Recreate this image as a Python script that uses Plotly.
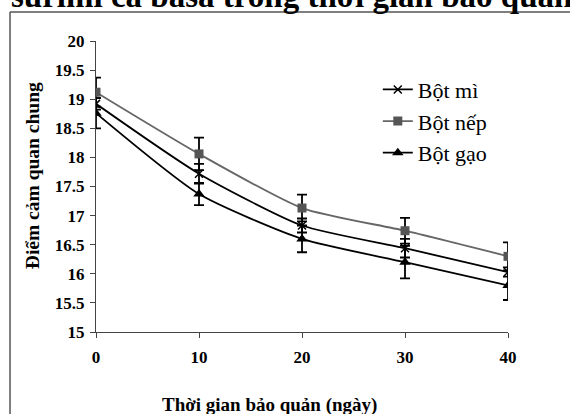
import plotly.graph_objects as go

days = [0, 10, 20, 30, 40]
bot_mi = [18.92, 17.72, 16.83, 16.44, 16.03]
bot_nep = [19.12, 18.06, 17.13, 16.74, 16.3]
bot_gao = [18.76, 17.37, 16.6, 16.2, 15.8]
err_mi = [0.1, 0.17, 0.12, 0.16, 0.08]
err_nep = [0.25, 0.28, 0.23, 0.22, 0.24]
err_gao = [0.26, 0.19, 0.23, 0.28, 0.25]
series_names = ["Bột mì", "Bột nếp", "Bột gạo"]
y_ticks = [15, 15.5, 16, 16.5, 17, 17.5, 18, 18.5, 19, 19.5, 20]
y_tick_text = ["15", "15.5", "16", "16.5", "17", "17.5", "18", "18.5", "19", "19.5", "20"]

SERIF = "Liberation Serif"

fig = go.Figure()

def add(name, y, err, color, symbol, msize, lcolor):
    fig.add_trace(go.Scatter(
        x=days, y=y, name=name, mode="lines+markers",
        line=dict(color=lcolor, width=1.8, shape="spline", smoothing=0.6),
        marker=dict(symbol=symbol, size=msize, color=color,
                    line=dict(color=color, width=1.5 if symbol == "x-thin" else 0)),
        error_y=dict(type="data", array=err, visible=True, color="black",
                     thickness=1.8, width=5),
        legendgroup=name,
    ))

add(series_names[0], bot_mi, err_mi, "black", "x-thin", 8, "black")
add(series_names[1], bot_nep, err_nep, "#555555", "square", 9, "#666666")
add(series_names[2], bot_gao, err_gao, "black", "triangle-up", 10, "black")

fig.update_layout(
    width=570, height=414,
    margin=dict(l=96, r=62, t=41, b=82),
    paper_bgcolor="white", plot_bgcolor="white",
    font=dict(family=SERIF, color="black"),
    showlegend=True,
    legend=dict(x=0.684, y=0.905, xanchor="left", yanchor="top",
                font=dict(family=SERIF, size=22, color="black"),
                bgcolor="rgba(0,0,0,0)", tracegroupgap=0),
    xaxis=dict(range=[0, 40], tickvals=days, ticktext=[str(d) for d in days],
               showgrid=False, zeroline=False, showline=True, linecolor="#444444",
               linewidth=1, ticks="outside", ticklen=5, tickcolor="#444444",
               tickfont=dict(family=SERIF, size=17, weight="bold"),
               ticklabelstandoff=5),
    yaxis=dict(range=[15, 20], tickvals=y_ticks, ticktext=y_tick_text,
               showgrid=False, zeroline=False, showline=True, linecolor="#444444",
               linewidth=1, ticks="outside", ticklen=5, tickcolor="#444444",
               tickfont=dict(family=SERIF, size=17, weight="bold"),
               ticklabelstandoff=2),
    annotations=[
        dict(text="Thời gian bảo quản (ngày)", xref="paper", yref="paper",
             x=0.422, y=-0.205, xanchor="center", yanchor="top", showarrow=False,
             font=dict(family=SERIF, size=19, weight="bold")),
        dict(text="Điểm cảm quan chung", xref="paper", yref="paper",
             x=-0.155, y=0.536, xanchor="center", yanchor="middle", showarrow=False,
             textangle=-90, font=dict(family=SERIF, size=19.5, weight="bold")),
        dict(text="surimi cá basa trong thời gian bảo quản", xref="paper", yref="paper",
             x=-0.21, y=1.085, xanchor="left", yanchor="bottom", showarrow=False,
             font=dict(family=SERIF, size=33, weight="bold")),
    ],
    shapes=[
        dict(type="line", xref="paper", yref="paper", x0=-0.2087, x1=-0.2087,
             y0=1.0997, y1=-0.3, line=dict(color="#555555", width=1.5)),
        dict(type="line", xref="paper", yref="paper", x0=-0.2087, x1=1.2,
             y0=1.0997, y1=1.0997, line=dict(color="#555555", width=1.5)),
    ],
)

fig.write_html("out.html")
